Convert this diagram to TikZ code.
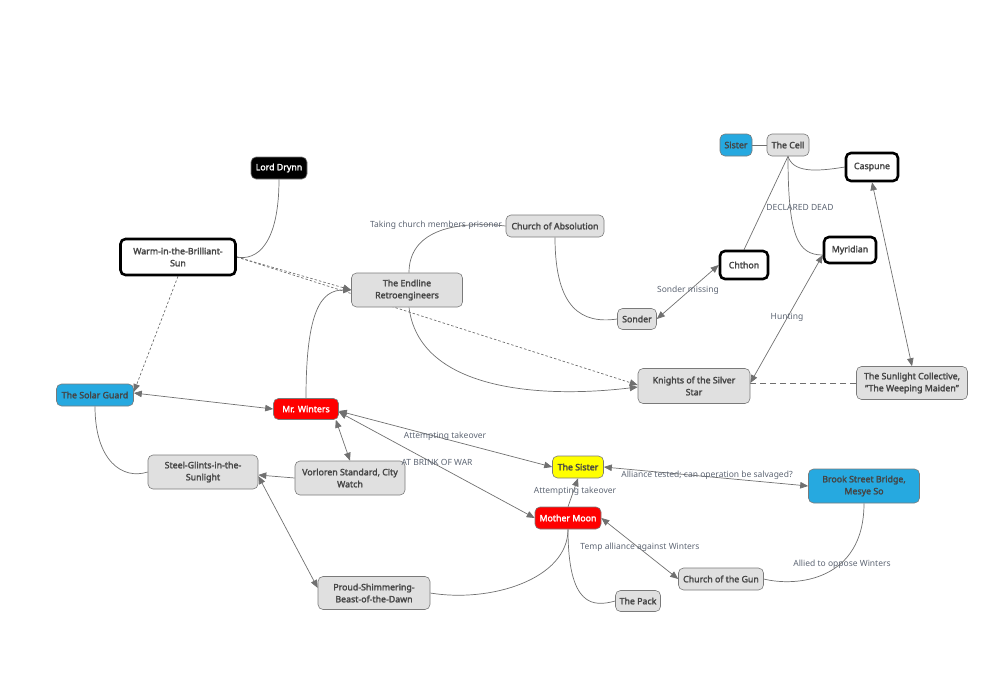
\documentclass[tikz,border=0pt]{standalone}
\usepackage{fontspec}
\setmainfont{Noto Sans}[BoldFont={Noto Sans}, BoldFeatures={FakeBold=2.2}]
\usetikzlibrary{arrows.meta,calc,backgrounds}
\definecolor{lnc}{HTML}{707070}
\definecolor{gfill}{HTML}{E0E0E0}
\definecolor{gborder}{HTML}{7A7A7A}
\definecolor{txt}{HTML}{454545}
\definecolor{lbltxt}{HTML}{5E6674}
\definecolor{bluef}{HTML}{26A9E0}
\definecolor{redf}{HTML}{FF0000}
\definecolor{yellowf}{HTML}{FFFF00}
\tikzset{
  base/.style={rounded corners=5pt, align=center, inner sep=1pt, font=\fontsize{8.8}{12}\selectfont\bfseries, text=txt},
  gbox/.style={base, draw=gborder, fill=gfill, line width=0.6pt},
  bbox/.style={base, draw=gborder, fill=bluef, line width=0.6pt},
  rbox/.style={base, draw=gborder, fill=redf, text=white, line width=0.6pt},
  ybox/.style={base, draw=gborder, fill=yellowf, line width=0.6pt},
  kbox/.style={base, draw=gborder, fill=black, text=white, line width=0.6pt},
  wbox/.style={base, draw=black, fill=white, line width=2.6pt},
  conn/.style={draw=lnc, line width=0.7pt},
  arr/.style={conn, -{Triangle[length=8pt,width=6.5pt]}},
  darr/.style={conn, {Triangle[length=8pt,width=6.5pt]}-{Triangle[length=8pt,width=6.5pt]}},
  sdash/.style={dash pattern=on 2.5pt off 2pt},
  ldash/.style={dash pattern=on 6pt off 4pt},
  lbl/.style={font=\fontsize{8.5}{10}\selectfont, text=lbltxt, inner sep=0pt},
}
\begin{document}
\begin{tikzpicture}[x=1pt,y=-1pt]
\useasboundingbox (0,0) rectangle (993,683);
% nodes
\node[kbox, minimum width=56pt, minimum height=22pt] (drynn) at (279,168) {Lord Drynn};
\node[wbox, minimum width=115pt, minimum height=36pt] (warm) at (178,257) {Warm-in-the-Brilliant-\\Sun};
\node[bbox, minimum width=77pt, minimum height=22pt] (solar) at (95,395) {The Solar Guard};
\node[rbox, minimum width=65pt, minimum height=21pt] (winters) at (306,409) {Mr. Winters};
\node[gbox, minimum width=110pt, minimum height=34pt] (steel) at (203,472) {Steel-Glints-in-the-\\Sunlight};
\node[gbox, minimum width=110pt, minimum height=34pt] (vorloren) at (350,478) {Vorloren Standard, City\\Watch};
\node[gbox, minimum width=112pt, minimum height=33pt] (proud) at (374,593) {Proud-Shimmering-\\Beast-of-the-Dawn};
\node[gbox, minimum width=111pt, minimum height=34pt] (endline) at (407,290) {The Endline\\Retroengineers};
\node[gbox, minimum width=98pt, minimum height=22pt] (coa) at (555,226) {Church of Absolution};
\node[gbox, minimum width=39pt, minimum height=21pt] (sonder) at (637,319) {Sonder};
\node[wbox, minimum width=48pt, minimum height=28pt] (chthon) at (744,265) {Chthon};
\node[bbox, minimum width=32pt, minimum height=22pt] (sister) at (736,145) {Sister};
\node[gbox, minimum width=42pt, minimum height=22pt] (cell) at (788,145) {The Cell};
\node[wbox, minimum width=52pt, minimum height=28pt] (caspune) at (872,167) {Caspune};
\node[wbox, minimum width=52pt, minimum height=26pt] (myridian) at (850,250) {Myridian};
\node[gbox, minimum width=112pt, minimum height=35pt] (knights) at (694,386) {Knights of the Silver\\Star};
\node[gbox, minimum width=111pt, minimum height=33pt] (sunlight) at (912,383) {The Sunlight Collective,\\"The Weeping Maiden"};
\node[ybox, minimum width=51pt, minimum height=22pt] (thesister) at (578,467) {The Sister};
\node[rbox, minimum width=66pt, minimum height=22pt] (mm) at (568,518) {Mother Moon};
\node[bbox, minimum width=111pt, minimum height=34pt] (brook) at (864,486) {Brook Street Bridge,\\Mesye So};
\node[gbox, minimum width=85pt, minimum height=22pt] (cog) at (721,579) {Church of the Gun};
\node[gbox, minimum width=45pt, minimum height=21pt] (pack) at (638,601) {The Pack};
% connectors (behind nodes)
\begin{scope}[on background layer]
\draw[conn] (drynn.south) .. controls +(0,65) and +(20,4) .. (warm.east);
\draw[arr, sdash] (warm.east) -- (endline.west);
\draw[arr, sdash] (warm.east) -- ([yshift=1pt]knights.west);
\draw[arr, sdash] (warm.south) -- ([yshift=3pt]solar.east);
\draw[darr] ([yshift=2pt]solar.east) -- (winters.west);
\draw[conn] (solar.south) .. controls +(0,55) and +(-25,8) .. (steel.west);
\draw[arr] (winters.north) .. controls +(0,-88) and +(-30,0) .. (endline.west);
\draw[darr] ([xshift=-3pt]winters.south east) -- (vorloren.north);
\draw[darr] ([yshift=-2pt]winters.east) -- (thesister.west);
\draw[darr] ([yshift=-3pt]winters.east) -- (mm.west);
\draw[arr] (vorloren.west) -- ([yshift=-3pt]steel.east);
\draw[darr] ([yshift=-4pt]steel.east) -- ([yshift=5pt]proud.west);
\draw[conn] (proud.east) .. controls +(60,10) and +(0,50) .. (mm.south);
\draw[arr] (mm.north) -- (thesister.south);
\draw[conn] (mm.south) .. controls +(0,78) and +(-22,6) .. (pack.west);
\draw[darr] (mm.east) -- (cog.west);
\draw[darr] (thesister.east) -- (brook.west);
\draw[conn] (brook.south) .. controls +(0,78) and +(32,8) .. (cog.east);
\draw[conn] (coa.west) .. controls +(-55,-6) and +(0,-40) .. ([xshift=2pt]endline.north);
\draw[conn] (coa.south) .. controls +(0,72) and +(-35,5) .. (sonder.west);
\draw[arr] ([xshift=2pt]endline.south) .. controls +(10,82) and +(-100,12) .. ([yshift=-1pt]knights.west);
\draw[darr] (sonder.east) -- (chthon.west);
\draw[conn] (cell.south) -- (chthon.north);
\draw[conn] (cell.south) .. controls +(0,80) and +(-25,0) .. ([yshift=-5pt]myridian.west);
\draw[conn] (cell.south) .. controls +(5,16) and +(-30,5) .. (caspune.west);
\draw[conn] (sister.east) -- (cell.west);
\draw[darr] (caspune.south) -- (sunlight.north);
\draw[darr] ([yshift=3pt]knights.east) -- ([yshift=-5pt]myridian.west);
\draw[conn, ldash] (sunlight.west) -- ([yshift=3pt]knights.east);
\end{scope}
% labels
\node[lbl] (l1) at (436,225) {Taking church members prisoner};
\node[lbl] (l2) at (800,207) {DECLARED DEAD};
\node[lbl] (l3) at (688,290) {Sonder missing};
\node[lbl] (l4) at (787,317) {Hunting};
\node[lbl] (l5) at (445,436) {Attempting takeover};
\node[lbl] (l6) at (437,462) {AT BRINK OF WAR};
\node[lbl] (l7) at (575,491) {Attempting takeover};
\node[lbl] (l8) at (707,475) {Alliance tested; can operation be salvaged?};
\node[lbl] (l9) at (640,547) {Temp alliance against Winters};
\node[lbl] (l10) at (842,564) {Allied to oppose Winters};
\end{tikzpicture}
\end{document}
